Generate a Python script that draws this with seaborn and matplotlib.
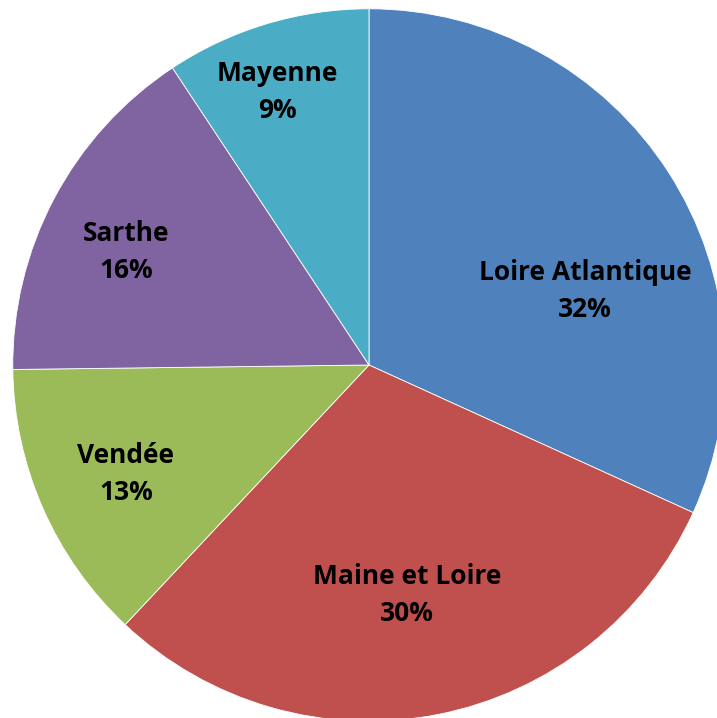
import seaborn as sns
import matplotlib.pyplot as plt

departements = ["Loire Atlantique", "Maine et Loire", "Vendée", "Sarthe", "Mayenne"]
parts = [31.8, 30.2, 12.8, 15.9, 9.3]
pct_labels = ["32%", "30%", "13%", "16%", "9%"]
colors = ["#4F81BD", "#C0504D", "#9BBB59", "#8064A2", "#4BACC6"]

sns.set_style("white")
plt.rcParams['font.family'] = ['Open Sans', 'DejaVu Sans']

fig = plt.figure(figsize=(7.17, 7.18), dpi=100)
ax = fig.add_axes([0, 0, 1, 1])

wedges, _ = ax.pie(parts, colors=colors, startangle=90, counterclock=False,
                   radius=0.995,
                   wedgeprops=dict(edgecolor="white", linewidth=0.6))

# label spots picked by eye (Excel best-fit)
label_pos = [(0.603, 0.207), (0.106, -0.642), (-0.679, -0.304),
             (-0.679, 0.316), (-0.257, 0.763)]
for name, pct, (x, y) in zip(departements, pct_labels, label_pos):
    ax.text(x, y, name + "\n" + pct, ha="center", va="center", color="black",
            fontsize=19, fontweight="bold", linespacing=1.5)

ax.set_xlim(-369 / 358, (717 - 369) / 358)
ax.set_ylim(-(718 - 365) / 358, 365 / 358)
ax.set_aspect("equal")
ax.axis("off")

fig.savefig("out.png", dpi=100)
